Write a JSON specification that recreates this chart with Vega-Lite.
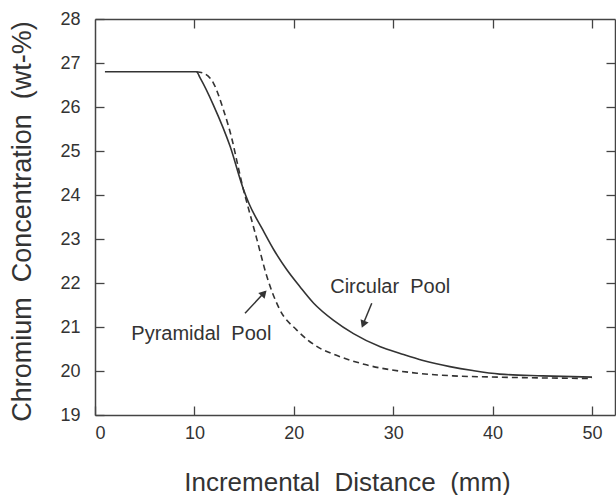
{
  "$schema": "https://vega.github.io/schema/vega-lite/v6.json",
  "width": 520,
  "height": 396,
  "autosize": {"type": "none"},
  "padding": {"left": 95, "top": 19, "right": 1, "bottom": 80},
  "background": "white",
  "config": {
    "view": {"stroke": null},
    "font": "Liberation Sans",
    "axis": {
      "grid": false,
      "domainColor": "#444444",
      "domainWidth": 1.5,
      "tickColor": "#444444",
      "tickWidth": 1.3,
      "tickSize": -9,
      "labelFont": "Liberation Sans",
      "labelColor": "#333333",
      "labelFontSize": 18,
      "titleFont": "Liberation Sans",
      "titleColor": "#333333",
      "titleFontWeight": "normal"
    }
  },
  "datasets": {
    "circular": [
      {"x": 1, "y": 26.8}, {"x": 10.2, "y": 26.8}, {"x": 10.6, "y": 26.65}, {"x": 11.9, "y": 26.05},
      {"x": 13.6, "y": 25.1}, {"x": 14.9, "y": 24.15}, {"x": 15.5, "y": 23.8}, {"x": 16.9, "y": 23.2},
      {"x": 18.0, "y": 22.75}, {"x": 19.3, "y": 22.3}, {"x": 20.6, "y": 21.92}, {"x": 22.0, "y": 21.54},
      {"x": 24.0, "y": 21.15}, {"x": 26.0, "y": 20.85}, {"x": 28.7, "y": 20.55}, {"x": 30.7, "y": 20.4},
      {"x": 33.0, "y": 20.24}, {"x": 35.7, "y": 20.1}, {"x": 38.0, "y": 20.01}, {"x": 40.7, "y": 19.93},
      {"x": 45.0, "y": 19.89}, {"x": 50.0, "y": 19.86}
    ],
    "pyramidal": [
      {"x": 10.2, "y": 26.8}, {"x": 10.9, "y": 26.77}, {"x": 11.9, "y": 26.55}, {"x": 12.9, "y": 25.95},
      {"x": 13.8, "y": 25.25}, {"x": 14.4, "y": 24.64}, {"x": 14.9, "y": 24.15}, {"x": 15.3, "y": 23.81},
      {"x": 16.3, "y": 22.98}, {"x": 17.3, "y": 22.14}, {"x": 18.6, "y": 21.39}, {"x": 20.3, "y": 20.93},
      {"x": 22.6, "y": 20.52}, {"x": 24.0, "y": 20.38}, {"x": 27.3, "y": 20.14}, {"x": 32.4, "y": 19.95},
      {"x": 36.0, "y": 19.89}, {"x": 40.7, "y": 19.86}, {"x": 50.0, "y": 19.83}
    ],
    "labels": [
      {"x": 29.7, "y": 21.77, "text": "Circular\u00a0\u00a0Pool"},
      {"x": 10.7, "y": 20.7, "text": "Pyramidal\u00a0\u00a0Pool"}
    ],
    "arrows": [
      {"x": 15.09, "y": 21.31, "x2": 17.1, "y2": 21.8},
      {"x": 27.84, "y": 21.54, "x2": 26.95, "y2": 21.05}
    ],
    "heads": [
      {"x": 17.0, "y": 21.77, "angle": 43},
      {"x": 26.98, "y": 21.06, "angle": 202}
    ]
  },
  "resolve": {"axis": {"x": "independent", "y": "independent"}},
  "layer": [
    {
      "data": {"name": "circular"},
      "mark": {"type": "line", "color": "#333333", "strokeWidth": 1.6, "interpolate": "monotone"},
      "encoding": {
        "x": {
          "field": "x", "type": "quantitative",
          "scale": {"domain": [0, 52.31], "nice": false, "zero": false},
          "axis": {
            "orient": "bottom", "values": [0, 10, 20, 30, 40, 50],
            "title": "Incremental\u00a0\u00a0Distance\u00a0\u00a0(mm)",
            "titleFontSize": 26, "titleX": 252, "titleY": 75, "titleBaseline": "alphabetic",
            "titleAlign": "center",
            "labelPadding": 18
          }
        },
        "y": {
          "field": "y", "type": "quantitative",
          "scale": {"domain": [19, 28], "nice": false, "zero": false},
          "axis": {
            "orient": "left", "values": [19, 20, 21, 22, 23, 24, 25, 26, 27, 28],
            "title": "Chromium\u00a0\u00a0Concentration\u00a0\u00a0(wt-%)",
            "titleFontSize": 27, "titleX": -73, "titleY": 202, "titleBaseline": "middle",
            "titleAngle": -90, "titleAlign": "center",
            "labelPadding": 24
          }
        }
      }
    },
    {
      "data": {"name": "pyramidal"},
      "mark": {"type": "line", "color": "#333333", "strokeWidth": 1.6, "strokeDash": [6, 4], "interpolate": "monotone"},
      "encoding": {
        "x": {
          "field": "x", "type": "quantitative",
          "axis": {"orient": "top", "values": [10, 20, 30, 40, 50], "labels": false, "title": null}
        },
        "y": {
          "field": "y", "type": "quantitative",
          "axis": {"orient": "right", "values": [20, 21, 22, 23, 24, 25, 26, 27], "labels": false, "title": null}
        }
      }
    },
    {
      "data": {"name": "labels"},
      "mark": {"type": "text", "fontSize": 20, "color": "#333333", "align": "center", "baseline": "alphabetic", "font": "Liberation Sans"},
      "encoding": {
        "x": {"field": "x", "type": "quantitative", "axis": null},
        "y": {"field": "y", "type": "quantitative", "axis": null},
        "text": {"field": "text"}
      }
    },
    {
      "data": {"name": "arrows"},
      "mark": {"type": "rule", "color": "#333333", "strokeWidth": 1.5},
      "encoding": {
        "x": {"field": "x", "type": "quantitative", "axis": null},
        "y": {"field": "y", "type": "quantitative", "axis": null},
        "x2": {"field": "x2"},
        "y2": {"field": "y2"}
      }
    },
    {
      "data": {"name": "heads"},
      "mark": {"type": "point", "shape": "triangle-up", "filled": true, "color": "#333333", "size": 75, "opacity": 1},
      "encoding": {
        "x": {"field": "x", "type": "quantitative", "axis": null},
        "y": {"field": "y", "type": "quantitative", "axis": null},
        "angle": {"field": "angle", "type": "quantitative", "scale": null}
      }
    }
  ]
}
